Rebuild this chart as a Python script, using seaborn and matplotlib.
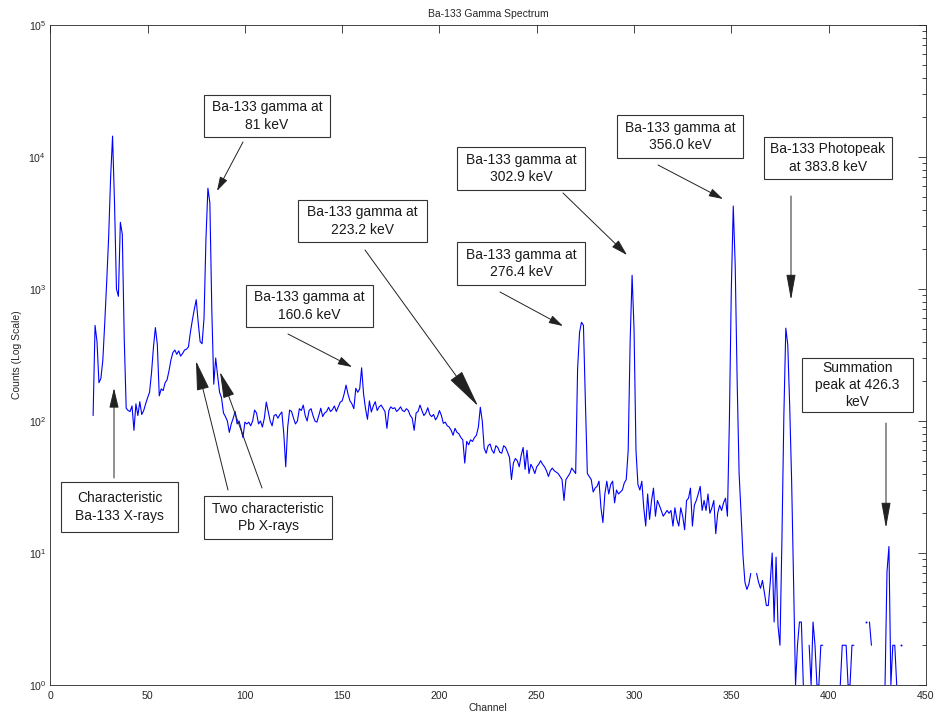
import numpy as np
import pandas as pd
import matplotlib
matplotlib.use("Agg")
import matplotlib.pyplot as plt
from matplotlib.patches import Rectangle, FancyArrowPatch, ArrowStyle
from matplotlib.ticker import LogLocator, NullLocator
import seaborn as sns

# ---- spectrum data: counts per channel (nan = empty channel) ----
first_channel = 22
counts = [
    110, 530, 400, 195, 210, 290, 560, 1150, 2500, 7000,        # 22
    14400, 4500, 1000, 880, 3200, 2600, 420, 125, 120, 118,     # 32
    130, 85, 135, 110, 140, 112, 120, 135, 150, 165,            # 42
    230, 360, 510, 380, 155, 175, 170, 195, 205, 240,           # 52
    290, 330, 345, 320, 340, 310, 325, 345, 350, 365,           # 62
    470, 580, 700, 830, 560, 400, 385, 600, 2400, 5800,         # 72
    4500, 700, 190, 300, 220, 165, 150, 115, 108, 100,          # 82
    82, 95, 105, 118, 95, 100, 88, 75, 98, 95,                  # 92
    98, 92, 100, 121, 115, 95, 100, 90, 105, 139,               # 102
    118, 100, 92, 110, 112, 105, 112, 117, 80, 45,              # 112
    90, 121, 118, 105, 95, 100, 124, 120, 132, 110,             # 122
    100, 120, 124, 110, 100, 98, 110, 125, 108, 115,            # 132
    118, 127, 118, 122, 130, 118, 128, 139, 142, 160,           # 142
    187, 160, 142, 135, 124, 177, 165, 175, 253, 160,           # 152
    124, 103, 142, 117, 130, 140, 120, 128, 132, 125,           # 162
    118, 88, 120, 128, 124, 126, 118, 122, 128, 120,            # 172
    118, 124, 120, 110, 105, 85, 115, 118, 132, 120,            # 182
    110, 115, 126, 112, 108, 112, 102, 108, 120, 110,           # 192
    96, 98, 92, 90, 85, 78, 88, 82, 80, 75,                     # 202
    72, 48, 70, 66, 72, 70, 75, 78, 90, 127,                    # 212
    100, 62, 57, 65, 67, 60, 57, 65, 63, 58,                    # 222
    57, 65, 63, 58, 53, 36, 48, 52, 50, 45,                     # 232
    55, 63, 43, 60, 40, 47, 44, 40, 45, 47,                     # 242
    50, 47, 45, 42, 38, 42, 44, 42, 41, 40,                     # 252
    38, 36, 25, 36, 38, 40, 44, 42, 40, 250,                    # 262
    470, 560, 530, 140, 40, 38, 36, 29, 31, 32,                 # 272
    35, 22, 17, 28, 35, 28, 33, 35, 24, 30,                     # 282
    28, 29, 30, 34, 36, 60, 400, 1270, 500, 60,                 # 292
    33, 30, 35, 22, 16, 28, 18, 25, 31, 19,                     # 302
    25, 23, 21, 19, 20, 21, 20, 21, 16, 22,                     # 312
    18, 16, 22, 19, 15, 25, 26, 31, 16, 23,                     # 322
    25, 28, 32, 21, 25, 21, 28, 20, 22, 25,                     # 332
    14, 20, 23, 21, 24, 26, 19, 100, 1000, 4250,                # 342
    1500, 200, 40, 20, 9.5, 6, 5.3, 5.8, 7, np.nan,             # 352
    np.nan, 7, 6, 5.4, 6.2, 5, 4, 4, 6, 10,                     # 362
    3, 9.3, 2.8, 2, 12.5, 110, 505, 380, 130, 35,               # 372
    6, 1, 2, 3, 3, 1, np.nan, np.nan, 2, 1,                     # 382
    3, 2, 1, 1, 2, 2, np.nan, np.nan, np.nan, np.nan,           # 392
    np.nan, np.nan, np.nan, np.nan, 1, 2, 2, 2, 1, 1,           # 402
    2, 2, np.nan, np.nan, np.nan, np.nan, np.nan, 3, np.nan, 3, # 412
    2, np.nan, np.nan, np.nan, np.nan, np.nan, np.nan, 1, 7.2, 11.2,  # 422
    1, 2, 2, 1, np.nan, 2,                                      # 432
]
channels = np.arange(first_channel, first_channel + len(counts))

# ---- annotation texts and their boxes (figure pixels: left, top, right, bottom) ----
labels = [
    "Ba-133 gamma at\n81 keV",
    "Ba-133 gamma at\n160.6 keV",
    "Ba-133 gamma at\n223.2 keV",
    "Ba-133 gamma at\n276.4 keV",
    "Ba-133 gamma at\n302.9 keV",
    "Ba-133 gamma at\n356.0 keV",
    "Ba-133 Photopeak\nat 383.8 keV",
    "Summation\npeak at 426.3\nkeV",
    "Characteristic\nBa-133 X-rays",
    "Two characteristic\nPb X-rays",
]
boxes = [
    (204, 95, 330, 137),
    (246, 285, 373, 327),
    (298, 200, 427, 242),
    (457, 242, 585, 285),
    (457, 147, 585, 190),
    (617, 115, 743, 158),
    (764, 137, 892, 179),
    (802, 358, 913, 412),
    (61, 482, 178, 532),
    (204, 496, 332, 539),
]
# arrows: start x, start y, tip x, tip y, head length, head width (pixels)
arrows = [
    (243, 142, 217, 191, 12, 7),
    (288, 334, 352, 367, 12, 7),
    (365, 250, 478, 406, 34, 13),
    (500, 292, 563, 326, 12, 7),
    (563, 193, 627, 255, 14, 8),
    (658, 165, 723, 199, 12, 7),
    (791, 196, 791, 300, 22, 8),
    (886, 423, 886, 528, 22, 8),
    (114, 478, 114, 388, 17, 8),
    (228, 490, 196, 361, 26, 11),
    (262, 488, 220, 372, 23, 10),
]

# ---- style ----
sns.set_style("white")
plt.rcParams["font.family"] = ["Liberation Sans", "DejaVu Sans"]
plt.rcParams["mathtext.fontset"] = "custom"
plt.rcParams["mathtext.rm"] = "Liberation Sans"
plt.rcParams["mathtext.it"] = "Liberation Sans:italic"

W, H = 935, 721
fig = plt.figure(figsize=(W / 100, H / 100), dpi=100)
fig.patch.set_facecolor("white")
ax = fig.add_axes([50.3 / W, 36 / H, 875.6 / W, 660 / H])
ax.set_yscale("log")

# split the trace at empty channels so the line breaks there
df = pd.DataFrame({"Channel": channels, "Counts": counts})
df["segment"] = np.cumsum(df["Counts"].isna())
df = df.dropna()
seg_size = df.groupby("segment")["Counts"].transform("size")

sns.lineplot(data=df[seg_size > 1], x="Channel", y="Counts", units="segment",
             estimator=None, sort=False, color="#0000ff", linewidth=0.8,
             legend=False, ax=ax)
sns.scatterplot(data=df[seg_size == 1], x="Channel", y="Counts",
                color="#0000ff", s=2, linewidth=0, legend=False, ax=ax)

ax.set_xlim(0, 450)
ax.set_ylim(1, 1e5)
ax.set_xticks(np.arange(0, 451, 50))
ax.xaxis.set_minor_locator(NullLocator())
ax.yaxis.set_major_locator(LogLocator(base=10, numticks=10))
ax.yaxis.set_minor_locator(LogLocator(base=10, subs=np.arange(2, 10), numticks=10))
ax.tick_params(which="both", direction="in", top=True, right=True,
               colors="#262626", labelsize=7.6, width=0.6)
ax.tick_params(which="major", length=5.8, pad=4)
ax.tick_params(axis="y", which="major", pad=3)
ax.tick_params(which="minor", length=2.9)
for s in ax.spines.values():
    s.set_color("#262626")
    s.set_linewidth(0.6)

ax.set_title("Ba-133 Gamma Spectrum", fontsize=7.5, pad=6, color="#262626")
ax.set_xlabel("Channel", fontsize=7.5, labelpad=2, color="#262626")
ax.set_ylabel("Counts (Log Scale)", fontsize=7.5, labelpad=5, color="#262626")


def fig_xy(px, py):
    return (px / W, 1 - py / H)


for text, (x0, y0, x1, y1) in zip(labels, boxes):
    fig.add_artist(Rectangle(fig_xy(x0, y1), (x1 - x0) / W, (y1 - y0) / H,
                             transform=fig.transFigure, facecolor="white",
                             edgecolor="#333333", linewidth=0.8))
    fig.text(*fig_xy((x0 + x1) / 2, (y0 + y1) / 2), text, ha="center",
             va="center", fontsize=10, linespacing=1.28, color="#1a1a1a")

for x0, y0, x1, y1, hl, hw in arrows:
    style = ArrowStyle("-|>", head_length=hl * 0.72, head_width=hw * 0.72 / 2)
    fig.add_artist(FancyArrowPatch(fig_xy(x0, y0), fig_xy(x1, y1),
                                   transform=fig.transFigure, arrowstyle=style,
                                   mutation_scale=1, linewidth=0.7,
                                   color="#222222", shrinkA=0, shrinkB=0))

fig.savefig("out.png", dpi=100, facecolor="white")
